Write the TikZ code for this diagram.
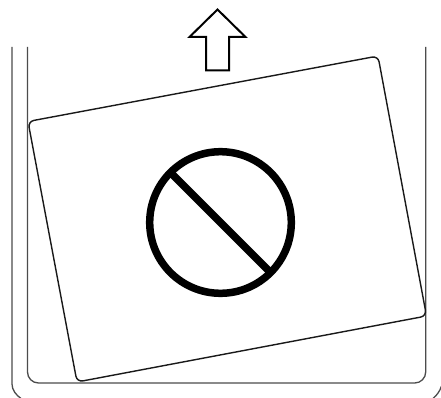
\documentclass[tikz,border=0pt]{standalone}
\begin{document}
\begin{tikzpicture}[x=1pt,y=-1pt,
  wall/.style={draw=black!70,line width=1.3pt},
  card/.style={draw=black!90,line width=1.4pt,rounded corners=6pt},
  sign/.style={draw=black,line width=7.5pt},
  arrowmark/.style={draw=black,line width=2pt,miter limit=10}]
\useasboundingbox (0,0) rectangle (441,398);
\fill[white] (0,0) rectangle (441,398);
\draw[wall] (12,47) -- (12,384) .. controls (12,390) and (16,395) .. (21,398.5);
\draw[wall] (441.5,386) .. controls (440,391) and (437,395) .. (433,398.5);
\draw[wall,rounded corners=11pt] (27.5,47) -- (27.5,383) -- (425.7,383) -- (425.7,47);
\draw[card] (28,121.5) -- (378,56) -- (426.5,316) -- (77,382) -- cycle;
\draw[sign] (220.5,222.5) circle (70.8);
\draw[sign] (171,173) -- (270,272);
\draw[arrowmark] (217.5,9.5) -- (245.5,37) -- (229,37) -- (229,70.5) -- (206,70.5) -- (206,37) -- (189.5,37) -- cycle;
\end{tikzpicture}
\end{document}
